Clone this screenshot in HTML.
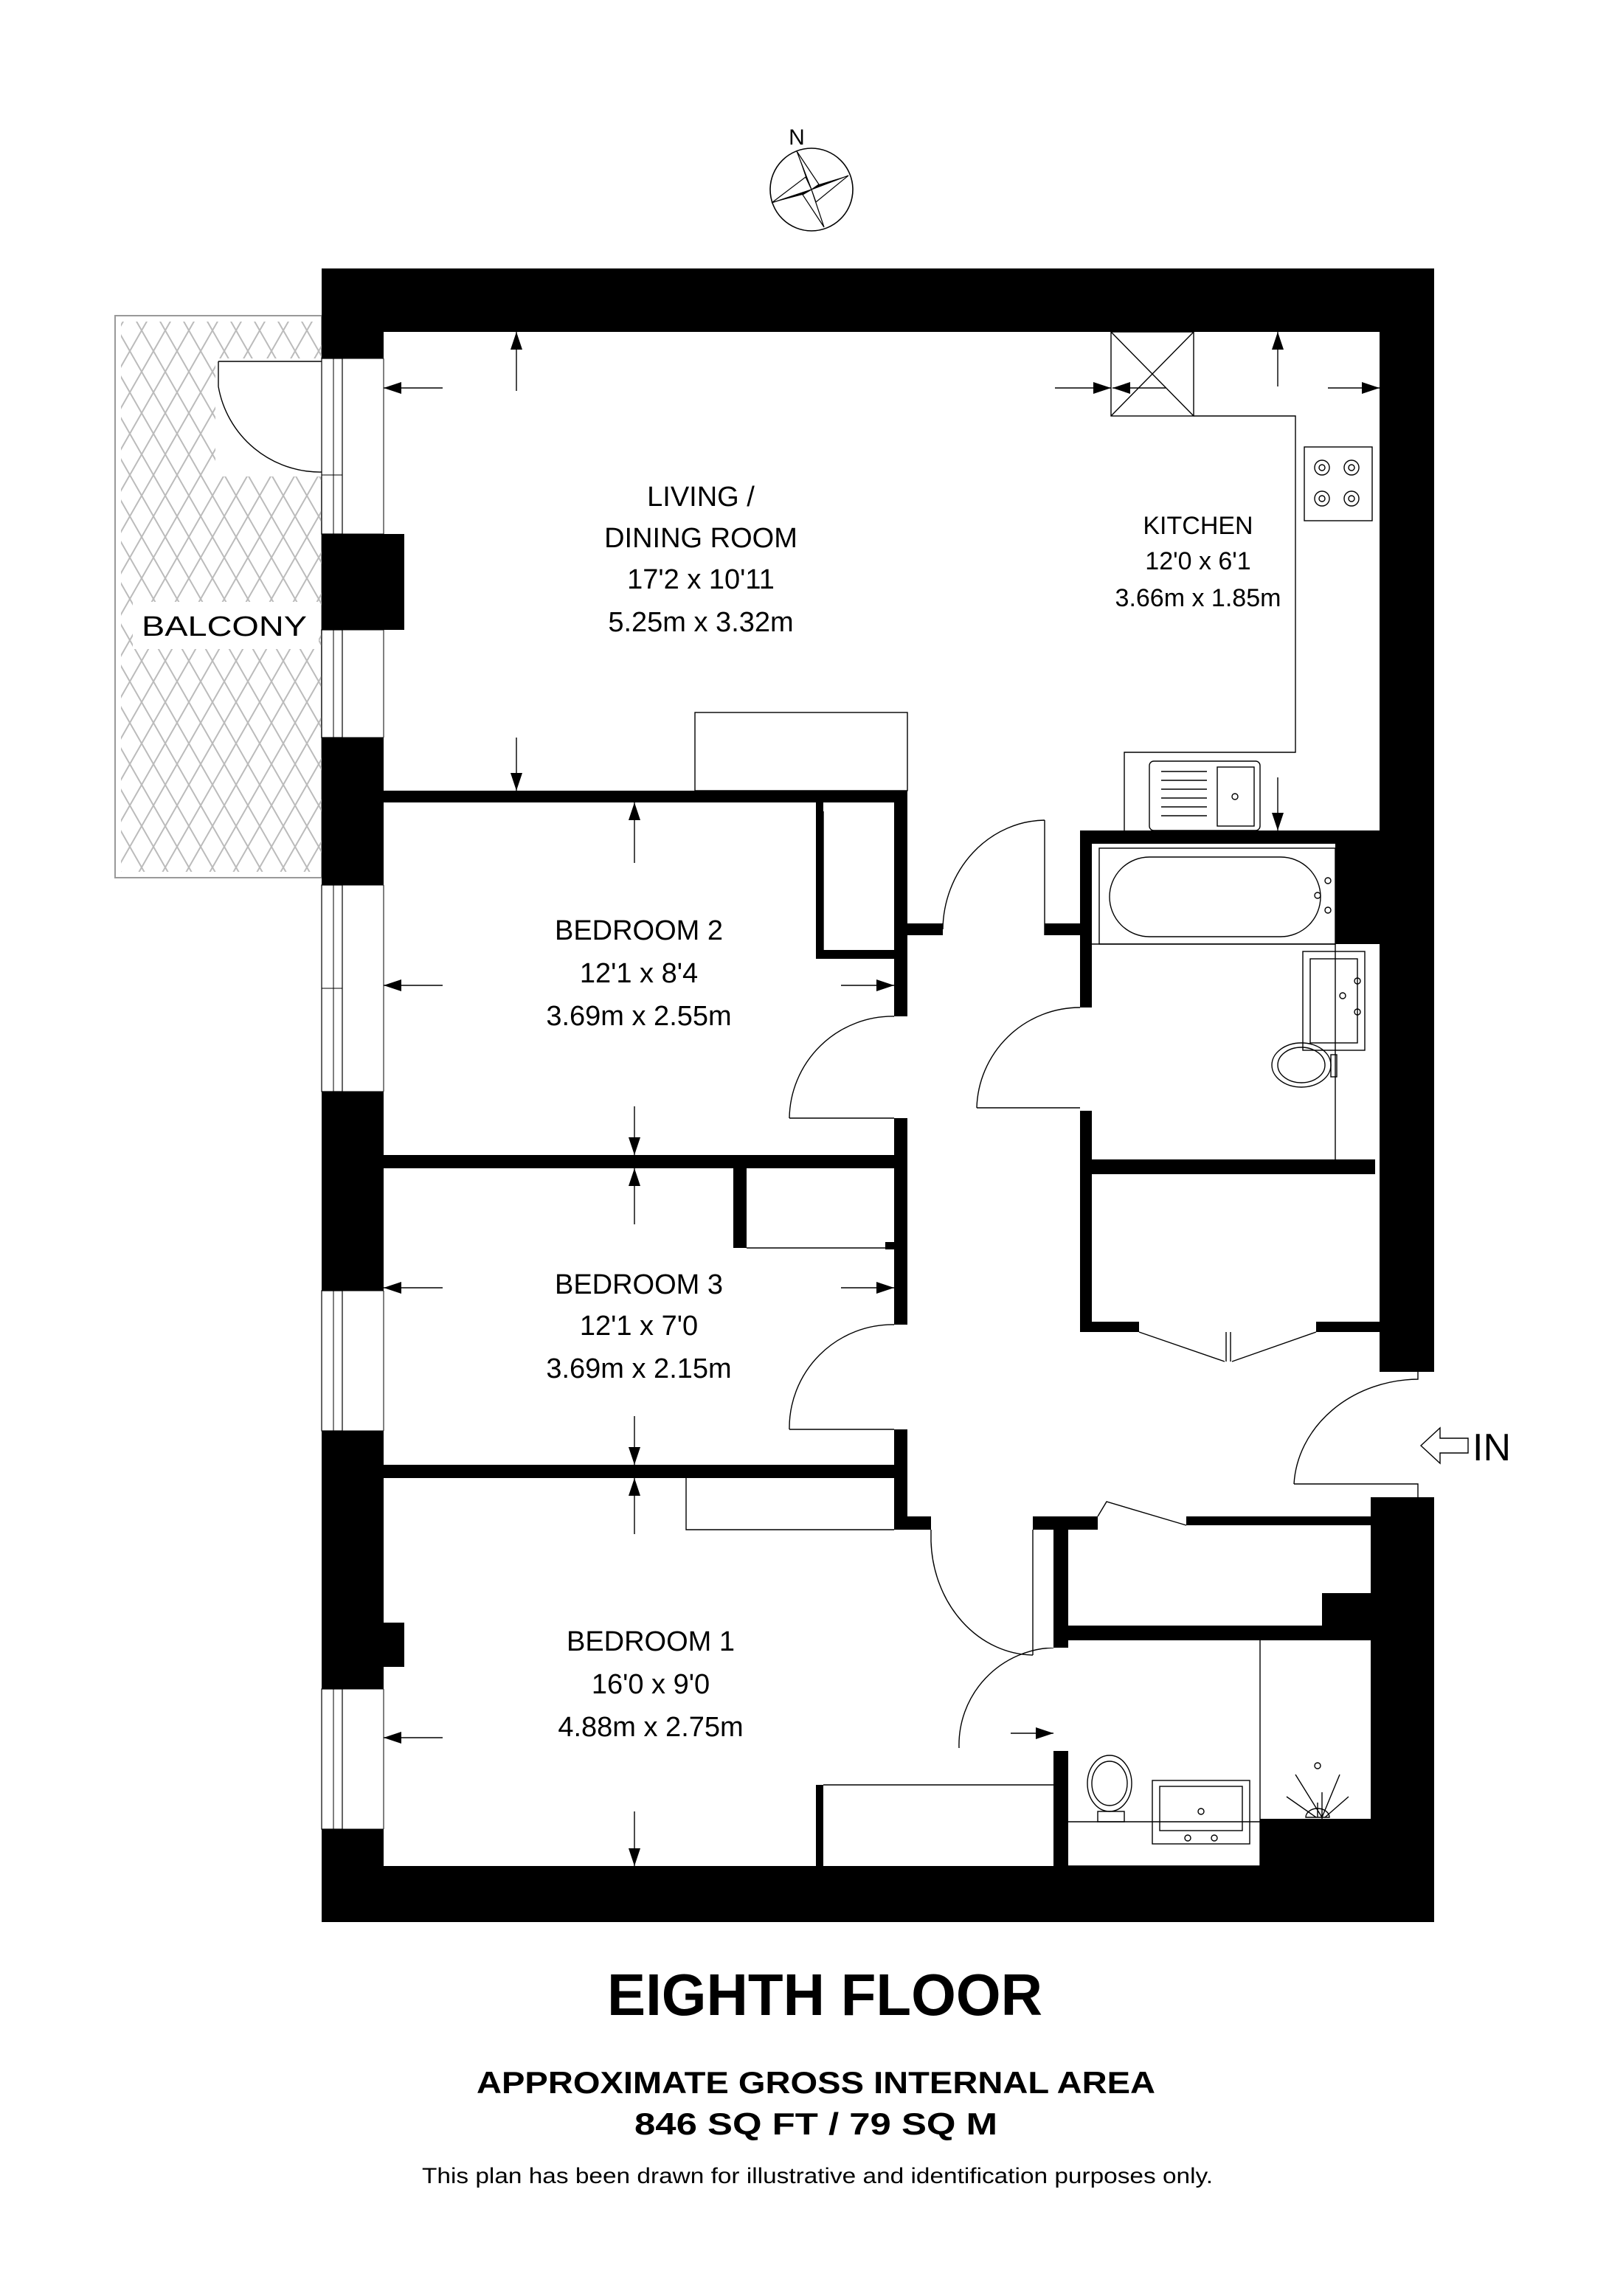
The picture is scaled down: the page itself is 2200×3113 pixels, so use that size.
<!DOCTYPE html>
<html><head><meta charset="utf-8"><style>html,body{margin:0;padding:0;background:#fff}svg{display:block}</style></head>
<body>
<svg width="2200" height="3113" viewBox="0 0 1100 1556.5" xmlns="http://www.w3.org/2000/svg" font-family="'Liberation Sans', sans-serif">
<defs>
<marker id="ar" viewBox="0 0 12 8" refX="12" refY="4" markerWidth="12" markerHeight="8" markerUnits="userSpaceOnUse" orient="auto"><path d="M0,0 L12,4 L0,8 Z" fill="#000"/></marker>
<pattern id="hatch" width="16" height="28" patternUnits="userSpaceOnUse"><path d="M0,0 L16,28 M16,0 L0,28" stroke="#bbb" stroke-width="1" fill="none"/></pattern>
</defs>
<rect width="1100" height="1556.5" fill="#fff"/>

<!-- compass -->
<text x="540" y="98" font-size="15" text-anchor="middle">N</text>
<circle cx="550" cy="128.5" r="28" fill="#fff" stroke="#000" stroke-width="0.8"/>
<path d="M540,102.5 L546,120 L550,128.5 Z M575,119 L555,125 L550,128.5 Z M558.5,154 L553,137 L550,128.5 Z M523,137.5 L544,132 L550,128.5 Z" fill="#000"/>
<path d="M540,102.5 L555,125 L550,128.5 Z M575,119 L553,137 L550,128.5 Z M558.5,154 L544,132 L550,128.5 Z M523,137.5 L546,120 L550,128.5 Z" fill="#fff" stroke="#000" stroke-width="0.6"/>

<!-- balcony -->
<rect x="78" y="214" width="140" height="381" fill="#fff" stroke="#999" stroke-width="1"/>
<rect x="82" y="218" width="136" height="373" fill="url(#hatch)"/>
<rect x="90" y="408" width="126" height="32" fill="#fff"/>
<text x="152" y="431" font-size="19" text-anchor="middle" textLength="112" lengthAdjust="spacingAndGlyphs">BALCONY</text>
<rect x="146" y="243" width="72" height="80" fill="#fff"/>
<path d="M148,245 L218,245 M148,245 L148,262 M148,262 A70 70 0 0 0 218,320" fill="none" stroke="#000" stroke-width="0.7"/>

<!-- walls -->
<g fill="#000">
<rect x="218" y="182" width="754" height="43"/>
<rect x="218" y="1265" width="754" height="38"/>
<rect x="218" y="182" width="42" height="61"/>
<rect x="218" y="362" width="56" height="65"/>
<rect x="218" y="500" width="42" height="100"/>
<rect x="218" y="740" width="42" height="135"/>
<rect x="218" y="970" width="42" height="175"/>
<rect x="218" y="1100" width="56" height="30"/>
<rect x="218" y="1240" width="42" height="30"/>
<rect x="935" y="182" width="37" height="748"/>
<rect x="905" y="563" width="67" height="77"/>
<rect x="929" y="1015" width="43" height="288"/>
<rect x="854" y="1233" width="118" height="40"/>
<rect x="896" y="1080" width="40" height="32"/>
<rect x="260" y="536" width="355" height="8"/>
<rect x="606" y="536" width="9" height="98"/>
<rect x="606" y="626" width="33" height="8"/>
<rect x="553" y="544" width="5" height="106"/>
<rect x="553" y="644" width="53" height="6"/>
<rect x="606" y="626" width="9" height="63"/>
<rect x="606" y="758" width="9" height="34"/>
<rect x="260" y="783" width="355" height="9"/>
<rect x="497" y="792" width="9" height="54"/>
<rect x="600" y="842" width="6" height="5"/>
<rect x="606" y="792" width="9" height="106"/>
<rect x="606" y="969" width="9" height="68"/>
<rect x="260" y="993" width="355" height="9"/>
<rect x="606" y="1028" width="25" height="9"/>
<rect x="708" y="626" width="32" height="8"/>
<rect x="732" y="563" width="8" height="120"/>
<rect x="732" y="563" width="200" height="9"/>
<rect x="732" y="753" width="8" height="150"/>
<rect x="732" y="786" width="200" height="10"/>
<rect x="732" y="896" width="40" height="7"/>
<rect x="892" y="896" width="43" height="7"/>
<rect x="700" y="1028" width="44" height="9"/>
<rect x="804" y="1028" width="125" height="6"/>
<rect x="714" y="1033" width="10" height="84"/>
<rect x="714" y="1028" width="4" height="9"/>
<rect x="724" y="1102" width="205" height="10"/>
<rect x="714" y="1187" width="10" height="80"/>
<rect x="553" y="1210" width="5" height="55"/>
</g>

<!-- windows left -->
<g fill="#fff" stroke="#000" stroke-width="0.6">
<rect x="218" y="243" width="14" height="119"/>
<rect x="218" y="427" width="14" height="73"/>
<rect x="218" y="600" width="14" height="140"/>
<rect x="218" y="875" width="14" height="95"/>
<rect x="218" y="1145" width="14" height="95"/>
</g>
<g stroke="#000" stroke-width="0.5" fill="none">
<path d="M226,243 V362 M218,322 H232 M226,427 V500 M226,600 V740 M218,670 H232 M226,875 V970 M226,1145 V1240 M232,243 H260 M232,362 H260 M232,427 H260 M232,500 H260 M232,600 H260 M232,740 H260 M232,875 H260 M232,970 H260 M232,1145 H260 M232,1240 H260 M260,243 V362 M260,427 V500 M260,600 V740 M260,875 V970 M260,1145 V1240"/>
</g>

<!-- fittings -->
<g fill="none" stroke="#000" stroke-width="0.7">
<rect x="471" y="483" width="144" height="53"/>
<rect x="753" y="225" width="56" height="57"/>
<path d="M753,225 L809,282 M809,225 L753,282"/>
<path d="M809,282 H878 V510 H762 V563"/>
<rect x="884" y="303" width="46" height="50"/>
<circle cx="896" cy="317" r="5"/><circle cx="896" cy="317" r="2"/>
<circle cx="916" cy="317" r="5"/><circle cx="916" cy="317" r="2"/>
<circle cx="896" cy="338" r="5"/><circle cx="896" cy="338" r="2"/>
<circle cx="916" cy="338" r="5"/><circle cx="916" cy="338" r="2"/>
<rect x="779" y="516" width="75" height="47" rx="3"/>
<rect x="825" y="520" width="25" height="40"/>
<circle cx="837" cy="540" r="2"/>
<path d="M787,523 H818 M787,529 H818 M787,535 H818 M787,541 H818 M787,547 H818 M787,553 H818"/>
<path d="M558,550 V644"/>
<path d="M506,846 H600"/>
<path d="M465,1002 V1037 H606"/>
<path d="M558,1210 H718 V1265"/>
<rect x="745" y="575" width="160" height="65"/>
<rect x="752" y="581" width="143" height="54" rx="27"/>
<circle cx="900" cy="597" r="2"/><circle cx="893" cy="607" r="2"/><circle cx="900" cy="617" r="2"/>
<path d="M740,640 H905 M905,640 V786"/>
<rect x="883" y="645" width="42" height="67"/>
<rect x="888" y="650" width="32" height="57"/>
<circle cx="920" cy="665" r="2"/><circle cx="910" cy="675" r="2"/><circle cx="920" cy="686" r="2"/>
<ellipse cx="882" cy="722" rx="20" ry="15"/>
<ellipse cx="882" cy="722" rx="16" ry="12"/>
<rect x="902" y="715" width="4" height="15"/>
<ellipse cx="752" cy="1209" rx="15" ry="19"/>
<ellipse cx="752" cy="1209" rx="12" ry="15"/>
<rect x="744" y="1228" width="18" height="7"/>
<path d="M724,1235 H854 M854,1112 V1265 M724,1265 H854"/>
<rect x="781" y="1207" width="66" height="43"/>
<rect x="786" y="1211" width="56" height="30"/>
<circle cx="814" cy="1228" r="2"/><circle cx="805" cy="1246" r="2"/><circle cx="823" cy="1246" r="2"/>
<path d="M896,1233 V1215 M878,1203 L896,1232 M893,1222 L893,1232 M872,1218 L892,1232 M914,1218 L898,1232 M908,1203 L896,1232"/>
<circle cx="893" cy="1197" r="2"/>
<path d="M885,1232 A8 6 0 0 1 901,1232 Z"/>
<path d="M708,556 V634 M639,630 A70 75 0 0 1 708,556"/>
<path d="M535,758 H606 M535,758 A70 70 0 0 1 606,689"/>
<path d="M535,969 H606 M535,969 A70 70 0 0 1 606,898"/>
<path d="M662,751 H732 M662,751 A70 70 0 0 1 732,683"/>
<path d="M772,903 L830,923 M835,923 L892,903 M831,903 V923 M834,903 V923"/>
<path d="M877,1006 H961 V1015 M877,1006 A85 75 0 0 1 961,935 V927"/>
<path d="M631,1037 V1045 M631,1045 A70 80 0 0 0 700,1122"/>
<path d="M650,1185 A66 66 0 0 1 714,1117"/>
<path d="M744,1028 L750,1018 L804,1034"/>
</g>
<rect x="700" y="1037" width="14" height="80" fill="#fff"/>
<path d="M700,1037 V1122" stroke="#000" stroke-width="0.7"/>

<!-- dimension arrows -->
<g stroke="#000" stroke-width="0.7" marker-end="url(#ar)">
<line x1="300" y1="263" x2="260" y2="263"/>
<line x1="350" y1="265" x2="350" y2="225"/>
<line x1="350" y1="500" x2="350" y2="536"/>
<line x1="715" y1="263" x2="753" y2="263"/>
<line x1="790" y1="263" x2="754" y2="263"/>
<line x1="866" y1="262" x2="866" y2="225"/>
<line x1="900" y1="263" x2="935" y2="263"/>
<line x1="866" y1="527" x2="866" y2="563"/>
<line x1="430" y1="585" x2="430" y2="544"/>
<line x1="300" y1="668" x2="260" y2="668"/>
<line x1="570" y1="668" x2="606" y2="668"/>
<line x1="430" y1="750" x2="430" y2="783"/>
<line x1="430" y1="830" x2="430" y2="792"/>
<line x1="300" y1="873" x2="260" y2="873"/>
<line x1="570" y1="873" x2="606" y2="873"/>
<line x1="430" y1="960" x2="430" y2="993"/>
<line x1="430" y1="1040" x2="430" y2="1002"/>
<line x1="300" y1="1178" x2="260" y2="1178"/>
<line x1="430" y1="1228" x2="430" y2="1265"/>
<line x1="685" y1="1175" x2="714" y2="1175"/>
</g>

<path d="M963,980 L976,968 L976,975 L995,975 L995,985 L976,985 L976,992 Z" fill="#fff" stroke="#000" stroke-width="0.7"/>
<text x="998" y="990" font-size="26">IN</text>

<g font-size="19" text-anchor="middle">
<text x="475" y="343">LIVING /</text>
<text x="475" y="371">DINING ROOM</text>
<text x="475" y="399">17'2 x 10'11</text>
<text x="475" y="428">5.25m x 3.32m</text>
<text x="433" y="637">BEDROOM 2</text>
<text x="433" y="666">12'1 x 8'4</text>
<text x="433" y="695">3.69m x 2.55m</text>
<text x="433" y="877">BEDROOM 3</text>
<text x="433" y="905">12'1 x 7'0</text>
<text x="433" y="934">3.69m x 2.15m</text>
<text x="441" y="1119">BEDROOM 1</text>
<text x="441" y="1148">16'0 x 9'0</text>
<text x="441" y="1177">4.88m x 2.75m</text>
</g>
<g font-size="17" text-anchor="middle">
<text x="812" y="362">KITCHEN</text>
<text x="812" y="386">12'0 x 6'1</text>
<text x="812" y="411">3.66m x 1.85m</text>
</g>
<text x="559" y="1366" font-size="40" font-weight="bold" text-anchor="middle" textLength="295" lengthAdjust="spacingAndGlyphs">EIGHTH FLOOR</text>
<text x="553" y="1419" font-size="21" font-weight="bold" text-anchor="middle" textLength="460" lengthAdjust="spacingAndGlyphs">APPROXIMATE GROSS INTERNAL AREA</text>
<text x="553" y="1447" font-size="21" font-weight="bold" text-anchor="middle" textLength="246" lengthAdjust="spacingAndGlyphs">846 SQ FT / 79 SQ M</text>
<text x="554" y="1480" font-size="15" text-anchor="middle" textLength="536" lengthAdjust="spacingAndGlyphs">This plan has been drawn for illustrative and identification purposes only.</text>
</svg>
</body></html>
